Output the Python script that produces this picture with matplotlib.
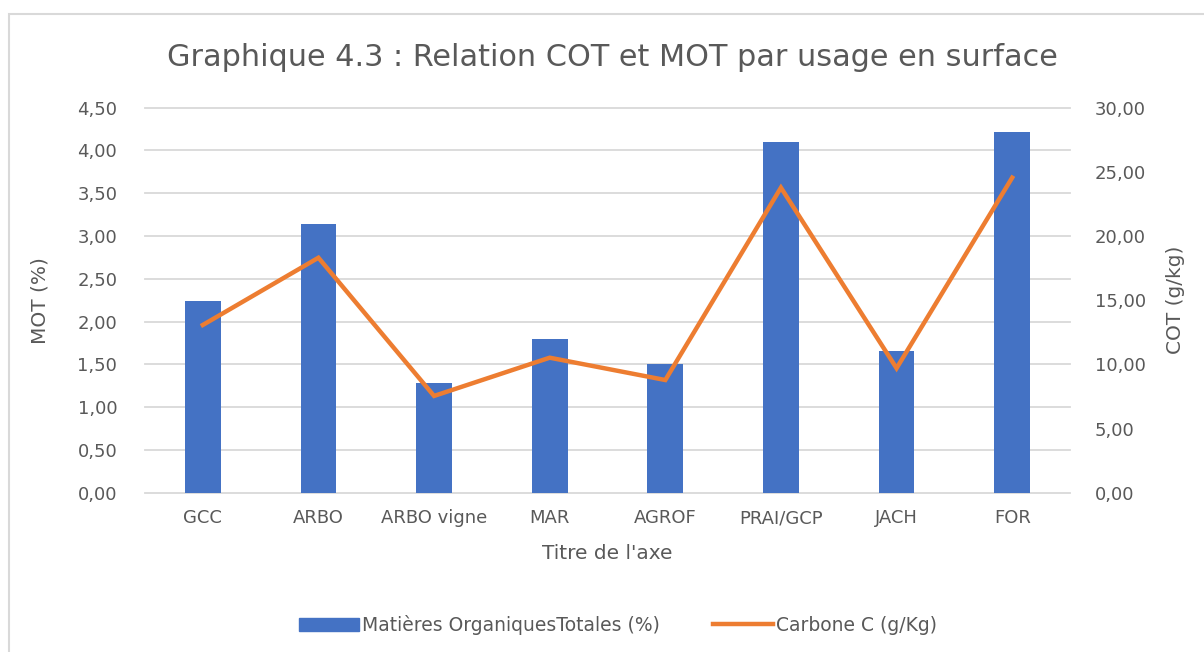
import matplotlib
matplotlib.use("Agg")
import matplotlib.pyplot as plt
from matplotlib.patches import Rectangle
from matplotlib.lines import Line2D
from matplotlib.ticker import FuncFormatter

categories = ["GCC", "ARBO", "ARBO vigne", "MAR", "AGROF", "PRAI/GCP", "JACH", "FOR"]
mot_values = [2.24, 3.14, 1.28, 1.80, 1.50, 4.10, 1.66, 4.22]
cot_values = [13.07, 18.31, 7.54, 10.52, 8.78, 23.77, 9.70, 24.55]
left_ticks = [0, 0.5, 1.0, 1.5, 2.0, 2.5, 3.0, 3.5, 4.0, 4.5]
right_ticks = [0, 5, 10, 15, 20, 25, 30]

title = "Graphique 4.3 : Relation COT et MOT par usage en surface"
bar_label = "Matières OrganiquesTotales (%)"
line_label = "Carbone C (g/Kg)"

plt.rcParams['font.family'] = ['DejaVu Sans']
txt = "#595959"
W, H = 1204, 652
fig = plt.figure(figsize=(W / 100, H / 100), dpi=100)

# chart border
fig.patches.append(Rectangle((9 / W, -0.05), 1.2, 1 - 14 / H + 0.05, transform=fig.transFigure,
                             fill=False, edgecolor="#d9d9d9", linewidth=1.5))

ax = fig.add_axes([145 / W, 1 - 492.7 / H, (1070 - 145) / W, (492.7 - 107.7) / H])
x = list(range(len(categories)))
ax.bar(x, mot_values, width=0.31, color="#4472C4", zorder=2)
ax.set_xlim(-0.5, len(categories) - 0.5)
ax.set_ylim(0, 4.5)
ax.set_yticks(left_ticks)
fmt2 = FuncFormatter(lambda v, p: f"{v:.2f}".replace(".", ","))
ax.yaxis.set_major_formatter(fmt2)
ax.set_xticks(x)
ax.set_xticklabels(categories)
ax.grid(axis="y", color="#d9d9d9", linewidth=1.3, zorder=0)
for gl in ax.get_ygridlines():
    gl.set_clip_on(False)
for s in ax.spines.values():
    s.set_visible(False)
ax.tick_params(axis="both", length=0, labelsize=13, colors=txt)
ax.tick_params(axis="x", pad=12)
ax.tick_params(axis="y", pad=20)
ax.set_xlabel("Titre de l'axe", fontsize=14.5, color=txt, labelpad=12)
ax.set_ylabel("MOT (%)", fontsize=14.5, color=txt, labelpad=20)

ax2 = ax.twinx()
ax2.plot(x, cot_values, color="#ED7D31", linewidth=3.2, solid_joinstyle="miter", zorder=3)
ax2.set_ylim(0, 30)
ax2.set_yticks(right_ticks)
ax2.yaxis.set_major_formatter(fmt2)
for s in ax2.spines.values():
    s.set_visible(False)
ax2.tick_params(axis="y", length=0, labelsize=13, colors=txt, pad=18)
ax2.set_ylabel("COT (g/kg)", fontsize=14.5, color=txt, labelpad=14)

fig.text(612 / W, 1 - 57 / H, title, ha="center", va="center", fontsize=21.8, color=txt)

handles = [Rectangle((0, 0), 1, 1, color="#4472C4"),
           Line2D([0], [0], color="#ED7D31", linewidth=3.2)]
fig.legend(handles, [bar_label, line_label], loc="center", bbox_to_anchor=(618 / W, 1 - 625 / H),
           ncol=2, frameon=False, fontsize=13.5, labelcolor=txt, handlelength=3.2,
           handletextpad=0.2, columnspacing=2.8)

fig.savefig("out.png", dpi=100)
